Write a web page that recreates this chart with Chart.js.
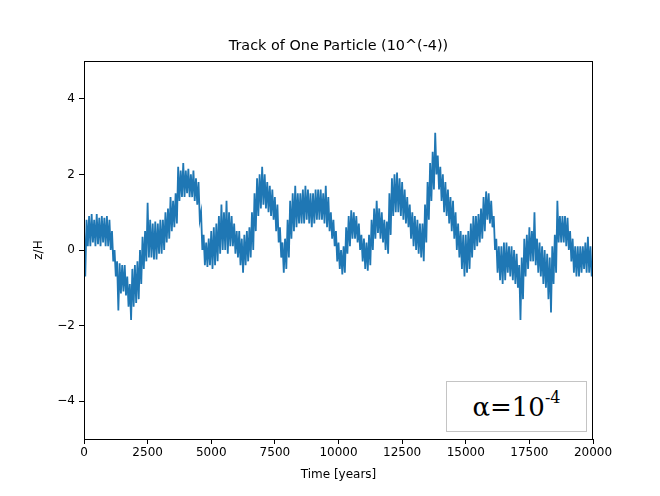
<!DOCTYPE html>
<html>
<head>
<meta charset="utf-8">
<script src="https://cdn.jsdelivr.net/npm/chart.js@4/dist/chart.umd.min.js"></script>
<style>
  html, body { margin: 0; padding: 0; background: #fff; }
  #wrap { position: relative; width: 660px; height: 496px; }
  #legendBox {
    position: absolute; left: 446px; top: 381px; width: 141px; height: 51px;
    box-sizing: border-box; border: 1.5px solid #c4c4c4; background: #fff;
    font-family: "DejaVu Serif", "Liberation Serif", serif; font-size: 26px; color: #000;
    display: flex; align-items: center; justify-content: center; line-height: 1;
  }
  #legendBox sup { font-size: 16px; position: relative; top: -4px; vertical-align: top; }
</style>
</head>
<body>
<div id="wrap">
  <canvas id="c" width="660" height="496"></canvas>
  <div id="legendBox"><span>α=10<sup>-4</sup></span></div>
</div>
<script>
const chartTitle = "Track of One Particle (10^(-4))";
const xAxisTitle = "Time [years]";
const yAxisTitle = "z/H";
const yTickValues = [-4, -2, 0, 2, 4];

const timeYears = [
  0, 50, 100, 150, 200, 250, 300, 350, 400, 450, 500, 550, 600, 650, 700, 750, 800, 850, 900, 950,
  1000, 1050, 1100, 1150, 1200, 1250, 1300, 1350, 1400, 1450, 1500, 1550, 1600, 1650, 1700, 1750, 1800, 1850, 1900, 1950,
  2000, 2050, 2100, 2150, 2200, 2250, 2300, 2350, 2400, 2450, 2500, 2550, 2600, 2650, 2700, 2750, 2800, 2850, 2900, 2950,
  3000, 3050, 3100, 3150, 3200, 3250, 3300, 3350, 3400, 3450, 3500, 3550, 3600, 3650, 3700, 3750, 3800, 3850, 3900, 3950,
  4000, 4050, 4100, 4150, 4200, 4250, 4300, 4350, 4400, 4450, 4500, 4550, 4600, 4650, 4700, 4750, 4800, 4850, 4900, 4950,
  5000, 5050, 5100, 5150, 5200, 5250, 5300, 5350, 5400, 5450, 5500, 5550, 5600, 5650, 5700, 5750, 5800, 5850, 5900, 5950,
  6000, 6050, 6100, 6150, 6200, 6250, 6300, 6350, 6400, 6450, 6500, 6550, 6600, 6650, 6700, 6750, 6800, 6850, 6900, 6950,
  7000, 7050, 7100, 7150, 7200, 7250, 7300, 7350, 7400, 7450, 7500, 7550, 7600, 7650, 7700, 7750, 7800, 7850, 7900, 7950,
  8000, 8050, 8100, 8150, 8200, 8250, 8300, 8350, 8400, 8450, 8500, 8550, 8600, 8650, 8700, 8750, 8800, 8850, 8900, 8950,
  9000, 9050, 9100, 9150, 9200, 9250, 9300, 9350, 9400, 9450, 9500, 9550, 9600, 9650, 9700, 9750, 9800, 9850, 9900, 9950,
  10000, 10050, 10100, 10150, 10200, 10250, 10300, 10350, 10400, 10450, 10500, 10550, 10600, 10650, 10700, 10750, 10800, 10850, 10900, 10950,
  11000, 11050, 11100, 11150, 11200, 11250, 11300, 11350, 11400, 11450, 11500, 11550, 11600, 11650, 11700, 11750, 11800, 11850, 11900, 11950,
  12000, 12050, 12100, 12150, 12200, 12250, 12300, 12350, 12400, 12450, 12500, 12550, 12600, 12650, 12700, 12750, 12800, 12850, 12900, 12950,
  13000, 13050, 13100, 13150, 13200, 13250, 13300, 13350, 13400, 13450, 13500, 13550, 13600, 13650, 13700, 13750, 13800, 13850, 13900, 13950,
  14000, 14050, 14100, 14150, 14200, 14250, 14300, 14350, 14400, 14450, 14500, 14550, 14600, 14650, 14700, 14750, 14800, 14850, 14900, 14950,
  15000, 15050, 15100, 15150, 15200, 15250, 15300, 15350, 15400, 15450, 15500, 15550, 15600, 15650, 15700, 15750, 15800, 15850, 15900, 15950,
  16000, 16050, 16100, 16150, 16200, 16250, 16300, 16350, 16400, 16450, 16500, 16550, 16600, 16650, 16700, 16750, 16800, 16850, 16900, 16950,
  17000, 17050, 17100, 17150, 17200, 17250, 17300, 17350, 17400, 17450, 17500, 17550, 17600, 17650, 17700, 17750, 17800, 17850, 17900, 17950,
  18000, 18050, 18100, 18150, 18200, 18250, 18300, 18350, 18400, 18450, 18500, 18550, 18600, 18650, 18700, 18750, 18800, 18850, 18900, 18950,
  19000, 19050, 19100, 19150, 19200, 19250, 19300, 19350, 19400, 19450, 19500, 19550, 19600, 19650, 19700, 19750, 19800, 19850, 19900, 19950,
  20000
];

const zOverH = [
  0.6, -0.7, 0.8, 0.1, 0.9, 0.1, 0.95, 0.2, 0.8, 0.1, 0.95, 0.15, 0.85, 0.1, 0.9, 0.2, 0.85, 0.1, 0.9, 0.1,
  0.8, 0.0, 0.5, -0.3, 0.0, -0.7, -0.3, -1.6, -0.35, -1.15, -0.4, -1.1, -0.4, -1.2, -0.7, -1.5, -0.9, -1.85, -0.5, -1.5,
  -0.4, -1.4, -0.3, -1.3, 0.0, -0.9, 0.35, -0.5, 0.5, -0.3, 1.25, -0.2, 0.8, -0.2, 0.7, -0.25, 0.75, -0.25, 0.7, -0.1,
  0.8, -0.1, 0.8, 0.0, 1.0, 0.2, 1.1, 0.3, 1.4, 0.5, 1.3, 0.6, 1.5, 0.7, 2.2, 1.3, 2.1, 1.4, 2.3, 1.4,
  2.1, 1.5, 2.15, 1.4, 2.0, 1.4, 2.1, 1.3, 1.9, 1.2, 1.8, 0.8, 1.0, 0.0, 0.4, -0.4, 0.2, -0.45, 0.3, -0.4,
  0.5, -0.5, 0.6, -0.4, 0.7, -0.3, 0.9, -0.1, 1.2, 0.0, 1.0, 0.0, 1.3, -0.1, 1.0, 0.1, 0.9, 0.1, 0.7, -0.1,
  0.5, -0.2, 0.5, -0.4, 0.3, -0.6, 0.4, -0.4, 0.5, -0.3, 0.6, -0.2, 1.0, 0.0, 1.5, 0.5, 1.9, 0.9, 2.0, 1.1,
  2.2, 1.2, 2.0, 1.1, 1.8, 1.0, 1.7, 0.9, 1.6, 0.8, 1.4, 0.5, 1.2, 0.2, 0.6, -0.2, 0.2, -0.6, 0.3, -0.5,
  0.8, -0.2, 1.3, 0.3, 1.5, 0.5, 1.7, 0.6, 1.5, 0.7, 1.5, 0.7, 1.6, 0.7, 1.7, 0.8, 1.6, 0.7, 1.5, 0.6,
  1.5, 0.7, 1.6, 0.8, 1.6, 0.8, 1.6, 0.8, 1.5, 0.7, 1.7, 0.6, 1.4, 0.5, 1.0, 0.3, 0.8, 0.1, 0.5, -0.3,
  0.2, -0.5, 0.0, -0.65, 0.1, -0.6, 0.6, -0.1, 0.9, 0.1, 1.05, 0.3, 1.0, 0.3, 0.9, 0.2, 0.7, 0.0, 0.4, -0.3,
  0.3, -0.5, 0.2, -0.55, 0.4, -0.4, 0.8, 0.0, 1.1, 0.3, 1.3, 0.45, 1.1, 0.3, 1.0, 0.2, 0.8, 0.0, 0.75, -0.1,
  1.5, 0.4, 1.9, 0.9, 2.0, 1.0, 2.05, 1.0, 1.9, 0.9, 1.8, 0.8, 1.6, 0.7, 1.4, 0.6, 1.2, 0.3, 1.0, 0.1,
  0.9, 0.0, 0.8, -0.1, 0.7, -0.2, 0.7, -0.3, 1.2, 0.2, 1.8, 0.8, 2.3, 1.3, 2.6, 1.6, 3.1, 2.0, 2.5, 1.6,
  2.2, 1.3, 2.0, 1.0, 1.8, 0.9, 1.6, 0.7, 1.4, 0.5, 1.3, 0.3, 1.0, 0.0, 0.7, -0.2, 0.5, -0.5, 0.4, -0.7,
  0.4, -0.6, 0.5, -0.5, 0.7, -0.2, 0.9, 0.0, 0.9, 0.1, 0.95, 0.2, 1.1, 0.3, 1.4, 0.5, 1.55, 0.8, 1.5, 0.7,
  1.3, 0.6, 0.9, 0.0, 0.3, -0.6, 0.1, -0.8, 0.1, -0.9, 0.2, -0.8, 0.2, -0.6, 0.1, -0.7, 0.1, -0.8, 0.0, -0.9,
  -0.1, -1.0, -0.4, -1.85, -0.2, -1.3, 0.3, -0.7, 0.4, -0.5, 0.6, -0.3, 0.5, -0.3, 1.0, -0.4, 0.3, -0.6, 0.2, -0.7,
  0.1, -0.9, 0.0, -1.0, -0.1, -1.3, -0.2, -1.65, 0.1, -0.9, 0.4, -0.6, 1.3, 0.2, 0.9, 0.2, 0.9, 0.2, 0.9, 0.1,
  0.85, 0.0, 0.5, -0.3, 0.3, -0.6, 0.1, -0.7, 0.1, -0.7, 0.1, -0.6, 0.1, -0.5, 0.2, -0.6, 0.35, -0.6, 0.1, -0.7,
  -0.35
];

const points = timeYears.map((t, i) => ({ x: t, y: zOverH[i] }));

const FONT = "'DejaVu Sans', Verdana, sans-serif";

const framePlugin = {
  id: 'frame',
  afterDraw(chart) {
    const { ctx, chartArea: a } = chart;
    ctx.save();
    ctx.strokeStyle = '#000';
    ctx.lineWidth = 1;
    ctx.strokeRect(Math.round(a.left) + 0.5, Math.round(a.top) + 0.5,
                   Math.round(a.right - a.left) - 1, Math.round(a.bottom - a.top));
    ctx.fillStyle = '#000';
    ctx.font = '14.4px ' + FONT;
    ctx.textAlign = 'center';
    ctx.textBaseline = 'middle';
    ctx.fillText(chartTitle, (a.left + a.right) / 2, 46);
    ctx.restore();
  }
};

new Chart(document.getElementById('c'), {
  type: 'line',
  data: {
    datasets: [{
      data: points,
      borderColor: '#1f77b4',
      borderWidth: 1.8,
      pointRadius: 0,
      tension: 0,
      fill: false
    }]
  },
  options: {
    responsive: false,
    animation: false,
    events: [],
    layout: { padding: { left: 0, right: 67, top: 61, bottom: 0 } },
    plugins: { legend: { display: false }, tooltip: { enabled: false }, title: { display: false } },
    scales: {
      x: {
        type: 'linear',
        min: 0, max: 20000,
        ticks: { stepSize: 2500, color: '#000', font: { family: FONT, size: 12 }, padding: 2, maxRotation: 0,
                 callback: v => String(v) },
        grid: { drawOnChartArea: false, drawTicks: true, tickLength: 5, color: '#000' },
        border: { display: true, color: '#000' },
        title: { display: true, text: xAxisTitle, color: '#000', font: { family: FONT, size: 12 }, padding: { top: 0, bottom: 14 } },
        afterFit(scale) { scale.height = 57; }
      },
      y: {
        type: 'linear',
        min: -5, max: 5,
        afterBuildTicks(scale) { scale.ticks = yTickValues.map(v => ({ value: v })); },
        ticks: {
          color: '#000', font: { family: FONT, size: 12 }, padding: 4,
          callback: v => (v < 0 ? '\u2212' + Math.abs(v) : String(v))
        },
        grid: { drawOnChartArea: false, drawTicks: true, tickLength: 5, color: '#000' },
        border: { display: true, color: '#000' },
        title: { display: true, text: yAxisTitle, color: '#000', font: { family: FONT, size: 12 }, padding: { top: 32, bottom: 0 } },
        afterFit(scale) { scale.width = 84; }
      }
    }
  },
  plugins: [framePlugin]
});
</script>
</body>
</html>
